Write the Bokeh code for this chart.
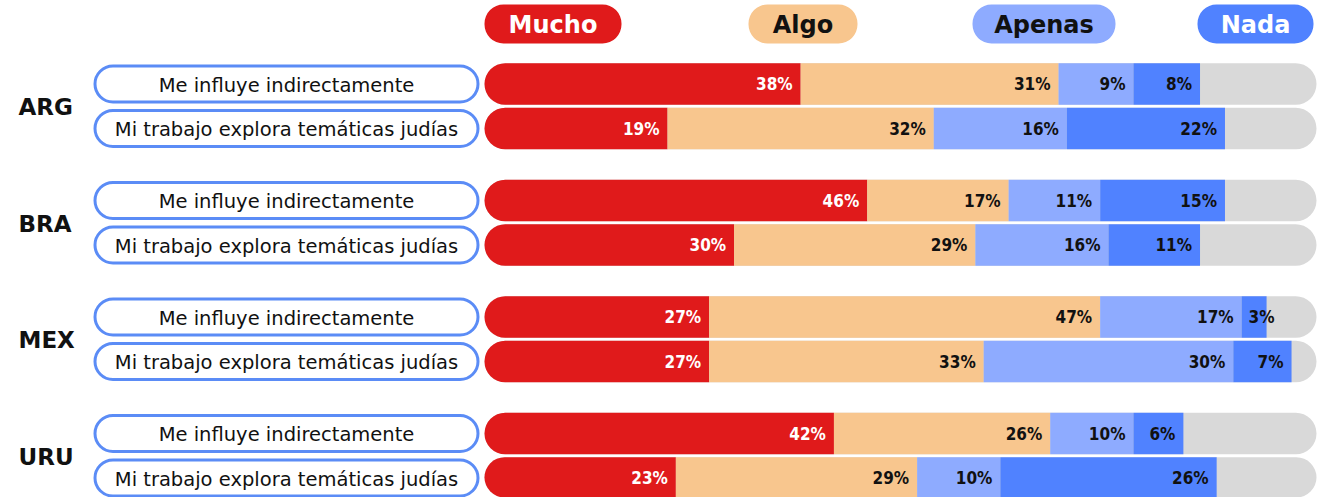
from bokeh.plotting import figure
from bokeh.models import Range1d, ColumnDataSource
from bokeh.embed import file_html
from bokeh.resources import INLINE
from bokeh.core.properties import value

# ---------------- data ----------------
countries = ["ARG", "BRA", "MEX", "URU"]
statements = ["Me influye indirectamente", "Mi trabajo explora temáticas judías"]
categories = ["Mucho", "Algo", "Apenas", "Nada"]

# bar lengths (%) per row: ARG-1, ARG-2, BRA-1, BRA-2, MEX-1, MEX-2, URU-1, URU-2
mucho = [38, 22, 46, 30, 27, 27, 42, 23]
algo = [31, 32, 17, 29, 47, 33, 26, 29]
apenas = [9, 16, 11, 16, 17, 30, 10, 10]
nada = [8, 19, 15, 11, 3, 7, 6, 26]
# printed labels that differ from the drawn bar length in the source chart
label_overrides = {(1, "Mucho"): "19%", (1, "Nada"): "22%"}

series = [mucho, algo, apenas, nada]

# ---------------- style ----------------
colors = ["#E01A1B", "#F8C68E", "#8EABFF", "#5082FF"]
legend_text_colors = ["white", "#111111", "#111111", "white"]
pct_text_colors = ["white", "#111111", "#111111", "#111111"]
GRAY = "#D9D9D9"
BORDER = "#5B8CF6"

PX_PER = 8.32          # pixels per percentage point
ORIGIN = 484           # page x of 0 %
PAGE0 = 0              # page offset of the figure
W, H = 1334, 497
x_start = (PAGE0 - ORIGIN) / PX_PER
x_end = (PAGE0 + W - ORIGIN) / PX_PER

def px(page_x):
    return (page_x - ORIGIN) / PX_PER

p = figure(width=W, height=H, x_range=Range1d(x_start, x_end),
           y_range=Range1d(PAGE0 + H, PAGE0), output_backend="svg",
           toolbar_location=None, x_axis_type=None, y_axis_type=None,
           min_border=0)
p.grid.visible = False
p.outline_line_color = None
p.background_fill_color = "white"
p.border_fill_color = "white"

BAR_H = 41.5
def row_y(i):
    g, r = divmod(i, 2)
    return 83.5 + g * 116.5 + r * 44.5

n = len(mucho)
ys = [row_y(i) for i in range(n)]

# background gray pills
p.hbar(y=ys, left=0, right=100, height=BAR_H, fill_color=GRAY,
       line_color=None, border_radius=21)

pct_font = value("'DejaVu Sans Condensed', 'Liberation Sans Narrow', 'DejaVu Sans', sans-serif")
FS_PCT = 17

lab_r = dict(x=[], y=[], text=[], color=[])
lab_l = dict(x=[], y=[], text=[], color=[])

cum = [0] * n
for k, (cat, vals) in enumerate(zip(categories, series)):
    left = list(cum)
    right = [c + v for c, v in zip(cum, vals)]
    if k == 0:
        p.hbar(y=ys, left=left, right=right, height=BAR_H,
               fill_color=colors[k], line_color=None,
               border_radius=(21, 0, 0, 21))
    else:
        p.hbar(y=ys, left=left, right=right, height=BAR_H,
               fill_color=colors[k], line_color=None)
    for i in range(n):
        txt = label_overrides.get((i, cat), f"{vals[i]}%")
        ndig = len(txt) - 1
        est_w = FS_PCT * (0.626 * ndig + 0.9)
        seg_px = vals[i] * PX_PER
        if seg_px < est_w + 14:
            d = lab_l
            d["x"].append(left[i])
        else:
            d = lab_r
            d["x"].append(right[i])
        d["y"].append(ys[i])
        d["text"].append(txt)
        d["color"].append(pct_text_colors[k])
    cum = right

p.text(x="x", y="y", text="text", text_color="color",
       source=ColumnDataSource(lab_r), text_align="right",
       text_baseline="middle", x_offset=-8, text_font=pct_font,
       text_font_size=f"{FS_PCT}px", text_font_style="bold")
p.text(x="x", y="y", text="text", text_color="color",
       source=ColumnDataSource(lab_l), text_align="left",
       text_baseline="middle", x_offset=7, text_font=pct_font,
       text_font_size=f"{FS_PCT}px", text_font_style="bold")

# statement pills on the left
stmt_text = [statements[i % 2] for i in range(n)]
p.hbar(y=ys, left=px(94.5), right=px(477.5), height=36,
       fill_color="white", line_color=BORDER, line_width=3,
       border_radius=18)
p.text(x=px(286), y=[y + 1 for y in ys], text=stmt_text,
       text_align="center", text_baseline="middle",
       text_font=value("DejaVu Sans"), text_font_size="19.5px",
       text_color="#111111")

# country labels
cy = [(row_y(2 * g) + row_y(2 * g + 1)) / 2 + 1 for g in range(len(countries))]
p.text(x=px(18), y=cy, text=countries, text_align="left",
       text_baseline="middle", text_font=value("DejaVu Sans"),
       text_font_size="23px", text_font_style="bold", text_color="#111111")

# legend pills (layout: left/right page pixels)
leg_left = [484, 748, 972, 1197]
leg_right = [621, 857, 1115, 1313]
leg_y = 23.5
p.hbar(y=[leg_y] * 4, left=[px(v) for v in leg_left],
       right=[px(v) for v in leg_right], height=39,
       fill_color=colors, line_color=None, border_radius=19)
p.text(x=[px((a + b) / 2) for a, b in zip(leg_left, leg_right)],
       y=[leg_y + 1] * 4, text=categories, text_align="center",
       text_baseline="middle", text_font=value("DejaVu Sans"),
       text_font_size="24px", text_font_style="bold",
       text_color=legend_text_colors)

open("out.html", "w").write(file_html(p, INLINE))
